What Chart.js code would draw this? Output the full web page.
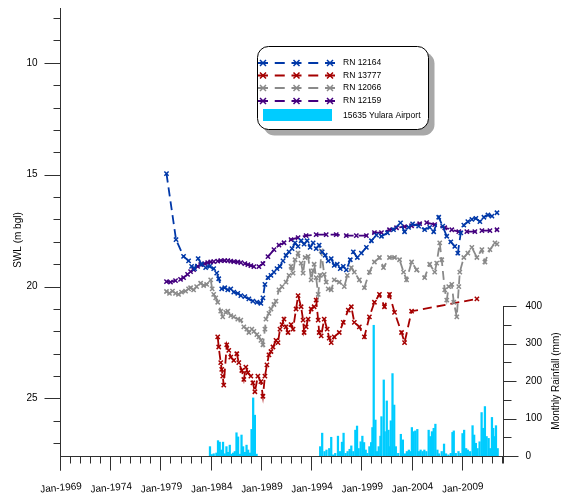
<!DOCTYPE html>
<html><head><meta charset="utf-8">
<script src="https://cdn.jsdelivr.net/npm/chart.js@4.4.0/dist/chart.umd.min.js"></script>
<style>html,body{margin:0;padding:0;background:#fff;overflow:hidden}canvas{display:block}</style>
</head><body>
<canvas id="c" width="564" height="501"></canvas>
<script>
// ---------- DATA ----------
const yearTickLabels = ['Jan-1969','Jan-1974','Jan-1979','Jan-1984','Jan-1989','Jan-1994','Jan-1999','Jan-2004','Jan-2009'];
const swlTickLabels = ['10','15','20','25'];
const rainTickLabels = ['0','100','200','300','400'];
const seriesNames = ['RN 12164','RN 13777','RN 12066','RN 12159'];
const rainName = '15635 Yulara Airport';
const leftTitle = 'SWL (m bgl)';
const rightTitle = 'Monthly Rainfall (mm)';

const rn12164Years = [1979.6,1980.55,1981.3,1981.8,1982.1,1982.4,1982.75,1983.1,1983.5,1983.9,1984.3,1984.6,1984.8,1985.1,1985.4,1985.7,1986.0,1986.3,1986.7,1987.0,1987.4,1987.8,1988.2,1988.6,1989.0,1989.2,1989.4,1989.7,1990.0,1990.3,1990.6,1990.9,1991.2,1991.5,1991.8,1992.1,1992.4,1992.7,1993.0,1993.3,1993.6,1993.9,1994.2,1994.5,1994.8,1995.1,1995.4,1995.7,1996.0,1996.3,1996.6,1996.9,1997.2,1997.5,1997.9,1998.2,1998.6,1999.0,1999.5,2000.0,2000.5,2001.0,2001.6,2002.2,2002.9,2003.3,2003.7,2004.1,2004.7,2005.3,2005.8,2006.2,2006.7,2007.1,2007.5,2007.9,2008.3,2008.6,2008.9,2009.2,2009.6,2010.0,2010.4,2010.8,2011.2,2011.6,2012.0,2012.5];
const rn12164Swl = [14.95,17.9,18.65,18.85,19.1,19.2,18.75,19.0,19.15,19.1,19.2,19.4,19.65,20.1,20.05,20.15,20.1,20.25,20.3,20.4,20.45,20.55,20.65,20.7,20.75,20.5,19.9,19.6,19.5,19.35,19.2,19.1,18.85,18.6,18.45,18.3,18.05,18.2,17.95,18.1,17.95,18.25,18.05,18.3,18.15,18.45,18.6,18.85,18.75,19.05,19.0,19.2,19.1,19.25,18.8,18.45,18.7,18.5,18.25,17.95,17.7,17.75,17.6,17.45,17.15,17.55,17.35,17.2,17.3,17.45,17.35,17.55,16.9,17.3,17.75,18.0,18.2,18.5,17.6,17.25,17.1,17.0,16.95,17.1,16.9,16.8,16.85,16.7];

const rn13777Years = [1984.7,1984.8,1985.0,1985.1,1985.2,1985.3,1985.6,1985.8,1986.0,1986.3,1986.6,1986.8,1987.1,1987.3,1987.5,1987.7,1988.0,1988.2,1988.4,1988.7,1989.0,1989.2,1989.4,1989.6,1989.8,1990.0,1990.2,1990.5,1990.7,1990.9,1991.1,1991.3,1991.5,1991.7,1992.0,1992.2,1992.5,1992.7,1993.0,1993.2,1993.3,1993.5,1993.7,1994.0,1994.3,1994.5,1994.7,1994.8,1995.0,1995.3,1995.6,1995.8,1996.0,1996.3,1996.8,1997.2,1997.7,1998.0,1998.3,1998.8,1999.3,1999.8,2000.3,2000.8,2001.3,2001.8,2002.3,2003.0,2003.3,2004.0,2010.5];
const rn13777Swl = [22.25,22.7,23.4,23.7,24.0,24.4,22.6,22.85,23.15,23.3,23.0,23.4,23.75,24.15,23.6,23.85,24.0,24.3,24.7,24.0,24.25,24.9,24.0,23.5,23.05,22.9,22.7,22.4,22.5,21.9,21.7,21.45,21.8,22.05,21.7,21.9,21.0,20.4,20.9,21.5,22.05,21.8,21.45,21.0,20.9,20.6,21.5,22.05,22.2,21.45,21.9,22.3,22.5,22.25,22.05,21.6,21.05,20.9,21.6,21.8,22.25,21.35,20.7,20.35,20.9,20.35,21.15,22.05,22.5,21.1,20.55];

const rn12066Years = [1979.6,1979.9,1980.2,1980.5,1980.8,1981.1,1981.5,1981.8,1982.0,1982.3,1982.6,1983.0,1983.3,1983.6,1984.0,1984.15,1984.3,1984.5,1984.7,1985.0,1985.2,1985.5,1985.7,1986.0,1986.3,1986.7,1987.0,1987.3,1987.6,1987.8,1988.1,1988.3,1988.6,1988.8,1989.0,1989.2,1989.4,1989.5,1989.8,1990.0,1990.3,1990.5,1990.8,1991.1,1991.5,1991.8,1992.0,1992.2,1992.4,1992.7,1993.0,1993.2,1993.4,1993.7,1994.0,1994.2,1994.3,1994.5,1994.7,1994.9,1995.0,1995.3,1995.5,1995.7,1996.0,1996.3,1996.8,1997.3,1997.6,1998.0,1998.3,1998.8,1999.3,1999.8,2000.3,2000.8,2001.2,2001.8,2002.3,2002.8,2003.2,2003.5,2004.0,2004.5,2005.3,2005.8,2006.3,2006.5,2006.8,2007.0,2007.3,2007.5,2007.7,2008.0,2008.2,2008.5,2008.7,2008.8,2009.2,2009.6,2010.0,2010.5,2011.0,2011.3,2011.8,2012.3,2012.5];
const rn12066Swl = [20.22,20.3,20.2,20.3,20.35,20.25,20.2,20.1,20.05,20.15,20.0,19.85,19.95,19.9,19.7,20.1,20.35,20.5,20.7,21.1,21.35,21.15,21.1,21.3,21.35,21.45,21.5,21.8,21.9,22.05,21.9,22.0,22.15,22.25,22.4,22.6,21.9,21.45,21.2,21.0,20.8,20.65,20.15,20.0,19.8,19.5,19.1,19.4,18.8,18.5,18.95,19.4,18.7,18.65,19.7,19.3,19.0,19.6,20.35,19.5,18.4,19.45,19.8,20.1,20.15,19.7,19.8,20.0,19.5,19.15,19.35,19.7,20.05,19.35,18.9,18.7,19.15,18.7,18.7,18.8,19.35,19.7,18.9,19.25,19.6,19.0,19.35,18.95,18.05,18.8,20.15,20.6,20.0,19.9,20.7,21.35,20.0,19.35,18.7,18.5,18.25,18.7,18.35,18.9,18.35,18.05,18.1];

const rn12159Years = [1979.6,1980.0,1980.5,1981.0,1981.3,1981.7,1982.0,1982.3,1982.7,1983.0,1983.4,1983.7,1984.0,1984.3,1984.7,1985.0,1985.4,1985.7,1986.0,1986.3,1986.7,1987.0,1987.4,1987.7,1988.0,1988.3,1988.8,1989.2,1989.7,1990.3,1990.8,1991.3,1992.0,1992.7,1993.5,1994.5,1995.5,1996.5,1997.5,1998.5,1999.5,2000.3,2001.0,2001.8,2002.5,2003.3,2004.0,2004.8,2005.5,2006.3,2007.3,2008.0,2008.7,2009.5,2010.3,2011.0,2011.8,2012.5];
const rn12159Swl = [19.78,19.8,19.73,19.68,19.6,19.45,19.33,19.24,19.1,19.02,18.97,18.93,18.9,18.88,18.86,18.84,18.84,18.84,18.86,18.88,18.9,18.93,18.97,19.02,19.06,19.11,19.11,18.97,18.66,18.35,18.15,18.04,17.9,17.81,17.72,17.68,17.68,17.68,17.72,17.72,17.72,17.59,17.59,17.46,17.37,17.32,17.28,17.19,17.14,17.23,17.37,17.46,17.54,17.54,17.54,17.5,17.5,17.46];

const rainYears = [1983.93,1984.1,1984.3,1984.57,1984.73,1984.9,1985.07,1985.23,1985.4,1985.57,1985.73,1985.9,1986.07,1986.23,1986.4,1986.57,1986.73,1986.9,1987.07,1987.23,1987.4,1987.57,1987.73,1987.9,1988.07,1988.23,1988.4,1988.57,
 1994.9,1995.1,1995.33,1995.53,1995.8,1996.0,1996.2,1996.4,1996.67,1996.87,1997.07,1997.23,1997.43,1997.63,1997.83,1998.0,1998.2,1998.4,1998.57,1998.73,1998.93,1999.1,1999.27,1999.43,1999.6,1999.8,1999.97,2000.1,2000.23,2000.4,2000.57,2000.73,2000.9,2001.0,2001.23,2001.33,2001.53,2001.7,2001.83,2001.93,2002.1,2002.27,2002.43,2002.67,2002.93,2003.13,2003.33,2003.53,2003.73,2003.93,2004.03,2004.2,2004.37,2004.57,2004.73,2004.9,2005.1,2005.27,2005.47,2005.7,2005.87,2006.03,2006.2,2006.37,2006.57,2006.73,2007.0,2007.23,2007.43,2007.67,2007.9,2008.07,2008.2,2008.4,2008.67,2008.87,2009.07,2009.23,2009.43,2009.6,2009.83,2010.07,2010.23,2010.4,2010.57,2010.77,2010.97,2011.13,2011.3,2011.47,2011.67,2011.83,2012.0,2012.13,2012.27,2012.4,2012.57];
const rainMm = [25,4,6,8,41,37,16,37,6,25,10,29,5,8,12,62,51,5,56,25,10,29,16,8,71,155,109,5,
 25,61,12,16,20,50,3,7,53,12,37,61,7,12,18,27,12,69,80,20,38,53,36,16,7,25,36,76,349,96,12,25,53,105,203,65,147,69,25,94,220,136,25,7,58,43,6,12,16,12,76,65,67,71,12,16,12,16,12,69,52,65,74,85,16,6,12,32,6,3,7,63,67,7,12,7,60,69,20,16,12,81,56,34,20,38,116,74,132,52,47,20,103,74,52,81,20];

// ---------- STYLE ----------
const COLORS = ['#0038a8','#a50000','#8a8a8a','#44007f'];
const CYAN = '#00ccff';
const FONT = '"Liberation Sans", Arial, sans-serif';
const AXIS = '#303030';

function pts(xs, ys){ return xs.map((x,i)=>({x:x, y:ys[i]})); }
function lineDs(i, xs, ys, order){
  return {label: seriesNames[i], data: pts(xs, ys), borderColor: COLORS[i], backgroundColor: COLORS[i],
    borderWidth: 1.8, borderDash: [9,5], pointStyle: 'crossRot', pointRadius: 3, pointBorderWidth: 1.5,
    pointBorderColor: COLORS[i], fill: false, tension: 0, order: order, yAxisID: 'y'};
}
function crossRot(ctx, x, y, r){ ctx.beginPath(); ctx.moveTo(x-r,y-r); ctx.lineTo(x+r,y+r); ctx.moveTo(x+r,y-r); ctx.lineTo(x-r,y+r); ctx.stroke(); }

const decor = {
  id: 'decor',
  afterDraw(chart){
    const {ctx, chartArea: ca, scales} = chart;
    const x = scales.x, y = scales.y, y2 = scales.y2;
    ctx.save();
    ctx.strokeStyle = AXIS; ctx.fillStyle = '#000'; ctx.lineWidth = 1;
    const L = Math.round(ca.left) + 0.5, B = Math.round(ca.bottom) + 0.5, R = Math.round(ca.right) + 0.5;
    // left axis
    ctx.beginPath(); ctx.moveTo(L, Math.round(ca.top)); ctx.lineTo(L, B + 14); ctx.stroke();
    const majorSwl = swlTickLabels.map(Number);
    for (let v = 8; v <= 27; v++) {
      const py = Math.round(y.getPixelForValue(v)) + 0.5;
      const len = majorSwl.includes(v) ? 16 : 7;
      ctx.beginPath(); ctx.moveTo(L - len, py); ctx.lineTo(L, py); ctx.stroke();
    }
    ctx.font = '10px ' + FONT; ctx.textAlign = 'right'; ctx.textBaseline = 'middle';
    swlTickLabels.forEach(t => ctx.fillText(t, L - 23, y.getPixelForValue(Number(t))));
    // bottom axis
    ctx.beginPath(); ctx.moveTo(L, B); ctx.lineTo(R + 15, B); ctx.stroke();
    const majorYears = yearTickLabels.map(t => parseInt(t.slice(4)));
    for (let yr = 1969; yr <= 2013; yr++) {
      const px = Math.round(x.getPixelForValue(yr)) + 0.5;
      const len = majorYears.includes(yr) ? 14 : 7;
      ctx.beginPath(); ctx.moveTo(px, B); ctx.lineTo(px, B + len); ctx.stroke();
    }
    ctx.textAlign = 'center';
    yearTickLabels.forEach((t, i) => {
      const px = x.getPixelForValue(majorYears[i]);
      ctx.save(); ctx.translate(px + 1, 488); ctx.rotate(-5 * Math.PI / 180);
      ctx.fillText(t, 0, 0); ctx.restore();
    });
    // right axis
    const top400 = Math.round(y2.getPixelForValue(400));
    ctx.beginPath(); ctx.moveTo(R, top400); ctx.lineTo(R, B + 7); ctx.stroke();
    const majorRain = rainTickLabels.map(Number);
    for (let v = 0; v <= 400; v += 50) {
      const py = Math.round(y2.getPixelForValue(v)) + 0.5;
      const len = majorRain.includes(v) ? 13 : 8;
      ctx.beginPath(); ctx.moveTo(R, py); ctx.lineTo(R + len, py); ctx.stroke();
    }
    ctx.textAlign = 'left';
    rainTickLabels.forEach(t => ctx.fillText(t, R + 22, y2.getPixelForValue(Number(t))));
    // titles
    ctx.textAlign = 'center';
    ctx.save(); ctx.translate(18, 240); ctx.rotate(-Math.PI / 2); ctx.fillText(leftTitle, 0, 0); ctx.restore();
    ctx.save(); ctx.translate(556, (y2.getPixelForValue(0) + y2.getPixelForValue(400)) / 2); ctx.rotate(-Math.PI / 2); ctx.fillText(rightTitle, 0, 0); ctx.restore();
    // legend
    const bx = 257.5, by = 46.5, bw = 171, bh = 83;
    ctx.fillStyle = '#a8a8a8';
    ctx.beginPath(); ctx.roundRect(bx + 6, by + 6, bw, bh, 11); ctx.fill();
    ctx.fillStyle = '#fff'; ctx.strokeStyle = '#000';
    ctx.beginPath(); ctx.roundRect(bx, by, bw, bh, 11); ctx.fill(); ctx.stroke();
    ctx.font = '8.5px ' + FONT; ctx.textAlign = 'left'; ctx.textBaseline = 'middle'; ctx.fillStyle = '#000';
    const rows = [63, 75.5, 88, 101];
    seriesNames.forEach((n, i) => {
      const ry = rows[i];
      ctx.strokeStyle = COLORS[i]; ctx.lineWidth = 2; ctx.setLineDash([10, 6.75]);
      ctx.beginPath(); ctx.moveTo(258, ry); ctx.lineTo(335, ry); ctx.stroke();
      ctx.setLineDash([]); ctx.lineWidth = 1.5;
      [263, 296.5, 330].forEach(mx => crossRot(ctx, mx, ry, 3));
      ctx.fillStyle = '#000'; ctx.fillText(n, 343, ry);
    });
    ctx.fillStyle = CYAN; ctx.fillRect(263, 109, 69, 12);
    ctx.fillStyle = '#000'; ctx.fillText(rainName, 343, 115.5);
    ctx.restore();
  }
};

new Chart(document.getElementById('c'), {
  type: 'line',
  data: { datasets: [
    lineDs(0, rn12164Years, rn12164Swl, 1),
    lineDs(3, rn12159Years, rn12159Swl, 2),
    lineDs(2, rn12066Years, rn12066Swl, 3),
    lineDs(1, rn13777Years, rn13777Swl, 4),
    {type: 'bar', label: rainName, data: pts(rainYears, rainMm), yAxisID: 'y2', backgroundColor: CYAN,
     borderWidth: 0, barThickness: 1.6, grouped: false, order: 10}
  ]},
  options: {
    responsive: false, animation: false, devicePixelRatio: 1,
    layout: {padding: {left: 60, top: 8, right: 61, bottom: 45}},
    plugins: {legend: {display: false}, tooltip: {enabled: false}},
    scales: {
      x: {type: 'linear', min: 1969, max: 2013.1, display: false, offset: false},
      y: {type: 'linear', min: 7.55, max: 27.57, reverse: true, display: false},
      y2: {type: 'linear', min: 0, max: 1196, display: false}
    }
  },
  plugins: [decor]
});
</script>
</body></html>
